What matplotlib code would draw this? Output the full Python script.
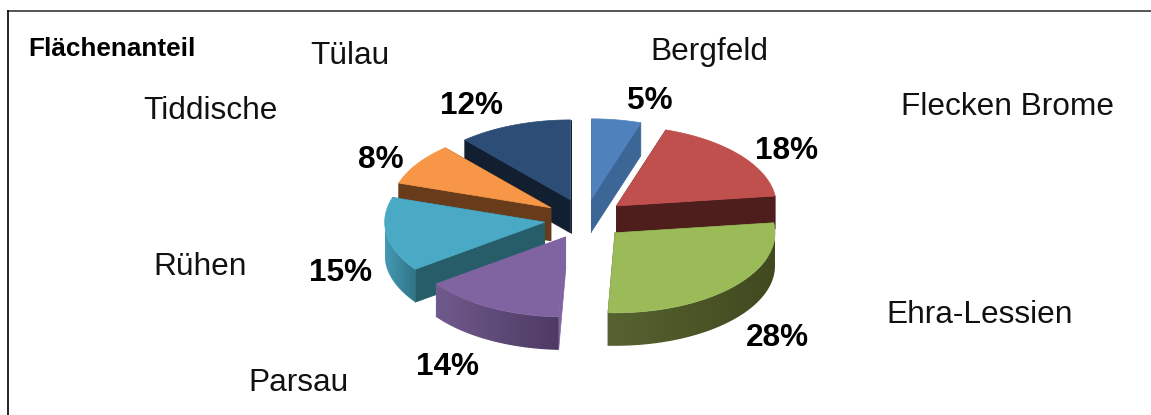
"""Flaechenanteil der Gemeinden als explodierte 3D-Torte."""
import matplotlib

matplotlib.use("Agg")
import matplotlib.pyplot as plt
import numpy as np
from matplotlib.colors import LinearSegmentedColormap
from matplotlib.patches import Polygon

plt.rcParams["font.family"] = ["Liberation Sans", "DejaVu Sans"]

gemeinden = ["Bergfeld", "Flecken Brome", "Ehra-Lessien", "Parsau", "Rühen", "Tiddische", "Tülau"]
# aus den Winkeln im Bild geschaetzt, die Labels sind gerundet
anteile = [5, 18, 27.7, 14.3, 15, 8.5, 11.5]
anteil_labels = ["5%", "18%", "28%", "14%", "15%", "8%", "12%"]

# Farben: Deckel, Schnittflaeche, Mantel (rechts, links)
farben_top = ["#4F81BD", "#C0504D", "#9BBB59", "#8064A2", "#4AA9C4", "#F79646", "#2C4D75"]
farben_schnitt = ["#3C6696", "#4E1E1C", "#41491F", "#8064A2", "#265D69", "#683C1B", "#121F31"]
farben_mantel = [
    ("#3C6696", "#3C6696"),
    ("#4E1E1C", "#4E1E1C"),
    ("#41491F", "#566330"),
    ("#4E3A63", "#6F5A8C"),
    ("#2F7488", "#459AB4"),
    ("#683C1B", "#683C1B"),
    ("#121F31", "#121F31"),
]

# Layout in Pixeln
CX, CY = 585, 219
RX, RY = 160, 80
HOEHE = 33
EXPLODE = 0.255

name_pos = [(709.5, 52), (1008, 107), (980, 315), (299, 383), (200, 267), (210, 111), (350, 56)]
prozent_pos = [(650, 101), (787, 151), (777, 338), (448, 367), (341, 273), (381, 160), (472, 106)]
# von hinten nach vorne zeichnen
reihenfolge = [0, 6, 5, 1, 4, 2, 3]


def _stueck(ax, i, start, ende, z):
    mitte = (start + ende) / 2
    ax0 = CX + EXPLODE * RX * np.cos(mitte)
    ay0 = CY - EXPLODE * RY * np.sin(mitte)
    theta = np.linspace(start, ende, 80)
    x = ax0 + RX * np.cos(theta)
    y = ay0 - RY * np.sin(theta)

    # Schnittflaechen
    for ex, ey in ((x[0], y[0]), (x[-1], y[-1])):
        ax.fill([ax0, ex, ex, ax0], [ay0, ey, ey + HOEHE, ay0 + HOEHE],
                color=farben_schnitt[i], lw=0.5, zorder=z)

    # Mantel mit Verlauf, nur der vordere Teil
    vorn = np.sin(theta) < 0
    if vorn.any():
        xv, yv = x[vorn], y[vorn]
        rand = Polygon(np.c_[np.r_[xv, xv[::-1]], np.r_[yv, yv[::-1] + HOEHE]],
                       closed=True, transform=ax.transData, fc="none", ec="none")
        ax.add_patch(rand)
        cmap = LinearSegmentedColormap.from_list("m", [farben_mantel[i][1], farben_mantel[i][0]])
        bild = ax.imshow(np.linspace(0, 1, 256)[None, :], cmap=cmap, aspect="auto",
                         extent=(xv.min(), xv.max(), yv.max() + HOEHE, yv.min()),
                         interpolation="bilinear", zorder=z + 0.1)
        bild.set_clip_path(rand)

    # Deckel
    ax.fill(np.r_[ax0, x], np.r_[ay0, y], color=farben_top[i], lw=0.5, zorder=z + 0.2)


fig = plt.figure(figsize=(11.51, 4.15), dpi=100)
ax = fig.add_axes([0, 0, 1, 1])
ax.axis("off")

# Winkel im Uhrzeigersinn ab 12 Uhr
grenzen = np.pi / 2 - 2 * np.pi * np.cumsum([0] + anteile) / sum(anteile)
for z, i in enumerate(reihenfolge):
    _stueck(ax, i, grenzen[i], grenzen[i + 1], z + 1)

ax.set_xlim(0, 1151)
ax.set_ylim(415, 0)

for name, (nx, ny) in zip(gemeinden, name_pos):
    ax.text(nx, ny, name, fontsize=22.8, ha="center", va="center", color="#111111", zorder=20)
for lab, (px, py) in zip(anteil_labels, prozent_pos):
    ax.text(px, py, lab, fontsize=22.7, fontweight="bold", ha="center", va="center", color="black", zorder=20)
ax.text(28, 49, "Flächenanteil", fontsize=18.8, fontweight="bold", ha="left", va="center", color="black", zorder=20)

# Rahmen: nur links und oben
ax.plot([8, 1151], [11, 11], color="#555555", lw=1.4, zorder=21)
ax.plot([8, 8], [11, 415], color="black", lw=1.2, zorder=21)

fig.savefig("out.png", dpi=100)
plt.close(fig)
